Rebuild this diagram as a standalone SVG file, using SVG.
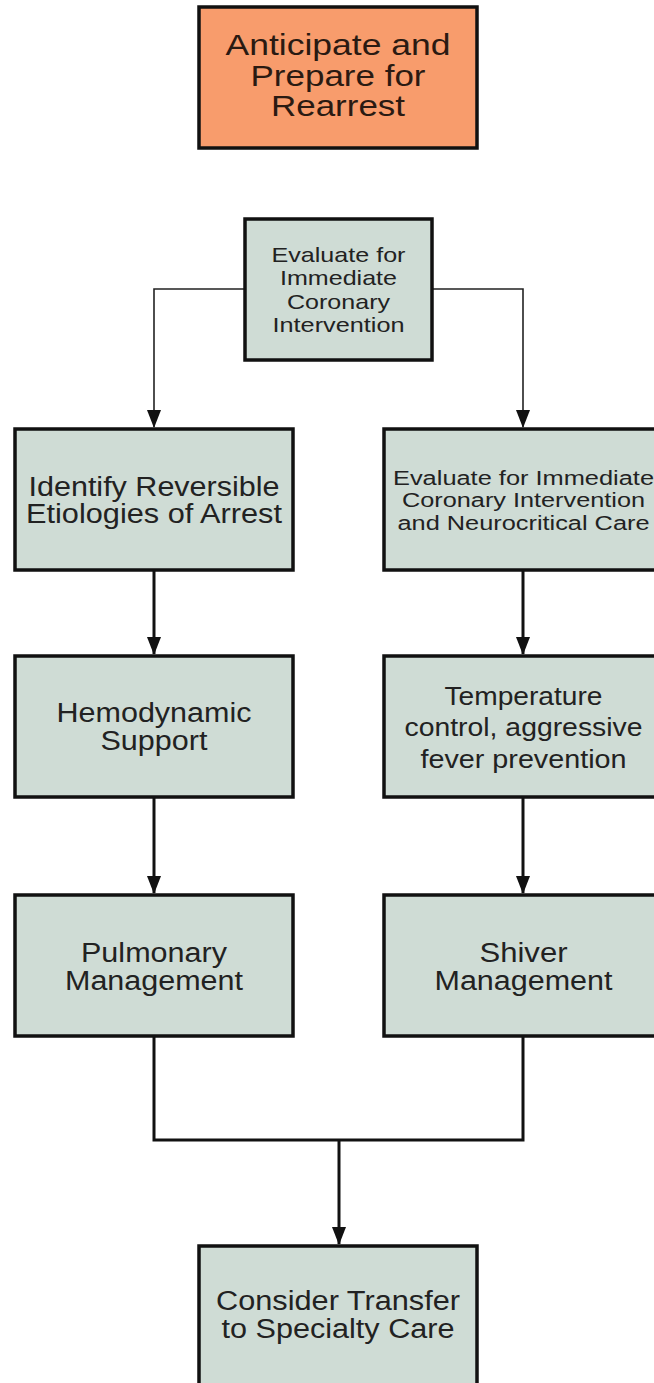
<svg xmlns="http://www.w3.org/2000/svg" width="654" height="1383" viewBox="0 0 654 1383">
<defs>
<marker id="ah" markerUnits="userSpaceOnUse" markerWidth="18" markerHeight="16" refX="17" refY="7" orient="auto">
<path d="M0,0 L18,7 L0,14 z" fill="#111"/>
</marker>
<style>
.box{fill:#cfdcd5;stroke:#111;stroke-width:3.5}
.start{fill:#f89c6c;stroke:#111;stroke-width:3.5}
.t{font-family:"Liberation Sans",Arial,sans-serif;fill:#222;text-anchor:middle}
.f22{font-size:21px}
.f20{font-size:20px}
.f27{font-size:27px}
.f25{font-size:25px}
.f31{font-size:29px;fill:#2a1a12}
.thin{fill:none;stroke:#222;stroke-width:1.6}
.thick{fill:none;stroke:#111;stroke-width:3}
</style>
</defs>
<rect width="654" height="1383" fill="#fff"/>
<g id="connectors">
<path class="thin" d="M245,289 H154 V427" marker-end="url(#ah)"/>
<path class="thin" d="M432,289 H523 V427" marker-end="url(#ah)"/>
<path class="thick" d="M154,570 V654" marker-end="url(#ah)"/>
<path class="thick" d="M523,570 V654" marker-end="url(#ah)"/>
<path class="thick" d="M154,797 V893" marker-end="url(#ah)"/>
<path class="thick" d="M523,797 V893" marker-end="url(#ah)"/>
<path class="thick" d="M154,1036 V1140 H523 V1036"/>
<path class="thick" d="M339,1140 V1244" marker-end="url(#ah)"/>
</g>
<g id="n-anticipate">
<rect class="start" x="199" y="7" width="278" height="141"/>
<text class="t f31" x="338" y="55" textLength="225" lengthAdjust="spacingAndGlyphs">Anticipate and</text>
<text class="t f31" x="338" y="86" textLength="175" lengthAdjust="spacingAndGlyphs">Prepare for</text>
<text class="t f31" x="338" y="116" textLength="134" lengthAdjust="spacingAndGlyphs">Rearrest</text>
</g>
<g id="n-evaluate-top">
<rect class="box" x="245" y="219" width="187" height="141"/>
<text class="t f22" x="338.5" y="262" textLength="134" lengthAdjust="spacingAndGlyphs">Evaluate for</text>
<text class="t f22" x="338.5" y="285" textLength="117" lengthAdjust="spacingAndGlyphs">Immediate</text>
<text class="t f22" x="338.5" y="309" textLength="103" lengthAdjust="spacingAndGlyphs">Coronary</text>
<text class="t f22" x="338.5" y="332" textLength="132" lengthAdjust="spacingAndGlyphs">Intervention</text>
</g>
<g id="n-identify">
<rect class="box" x="15" y="429" width="278" height="141"/>
<text class="t f27" x="154" y="496" textLength="251" lengthAdjust="spacingAndGlyphs">Identify Reversible</text>
<text class="t f27" x="154" y="523" textLength="256" lengthAdjust="spacingAndGlyphs">Etiologies of Arrest</text>
</g>
<g id="n-evaluate-neuro">
<rect class="box" x="384" y="429" width="278" height="141"/>
<text class="t f20" x="523.5" y="485" textLength="261" lengthAdjust="spacingAndGlyphs">Evaluate for Immediate</text>
<text class="t f20" x="523.5" y="507" textLength="243" lengthAdjust="spacingAndGlyphs">Coronary Intervention</text>
<text class="t f20" x="523.5" y="530" textLength="252" lengthAdjust="spacingAndGlyphs">and Neurocritical Care</text>
</g>
<g id="n-hemodynamic">
<rect class="box" x="15" y="656" width="278" height="141"/>
<text class="t f27" x="154" y="722" textLength="195" lengthAdjust="spacingAndGlyphs">Hemodynamic</text>
<text class="t f27" x="154" y="750" textLength="107" lengthAdjust="spacingAndGlyphs">Support</text>
</g>
<g id="n-temperature">
<rect class="box" x="384" y="656" width="278" height="141"/>
<text class="t f25" x="523.5" y="705" textLength="158" lengthAdjust="spacingAndGlyphs">Temperature</text>
<text class="t f25" x="523.5" y="736" textLength="238" lengthAdjust="spacingAndGlyphs">control, aggressive</text>
<text class="t f25" x="523.5" y="768" textLength="206" lengthAdjust="spacingAndGlyphs">fever prevention</text>
</g>
<g id="n-pulmonary">
<rect class="box" x="15" y="895" width="278" height="141"/>
<text class="t f27" x="154" y="962" textLength="146" lengthAdjust="spacingAndGlyphs">Pulmonary</text>
<text class="t f27" x="154" y="990" textLength="178" lengthAdjust="spacingAndGlyphs">Management</text>
</g>
<g id="n-shiver">
<rect class="box" x="384" y="895" width="278" height="141"/>
<text class="t f27" x="523.5" y="962" textLength="88" lengthAdjust="spacingAndGlyphs">Shiver</text>
<text class="t f27" x="523.5" y="990" textLength="178" lengthAdjust="spacingAndGlyphs">Management</text>
</g>
<g id="n-transfer">
<rect class="box" x="199" y="1246" width="278" height="200"/>
<text class="t f27" x="338" y="1310" textLength="244" lengthAdjust="spacingAndGlyphs">Consider Transfer</text>
<text class="t f27" x="338" y="1338" textLength="233" lengthAdjust="spacingAndGlyphs">to Specialty Care</text>
</g>
</svg>
